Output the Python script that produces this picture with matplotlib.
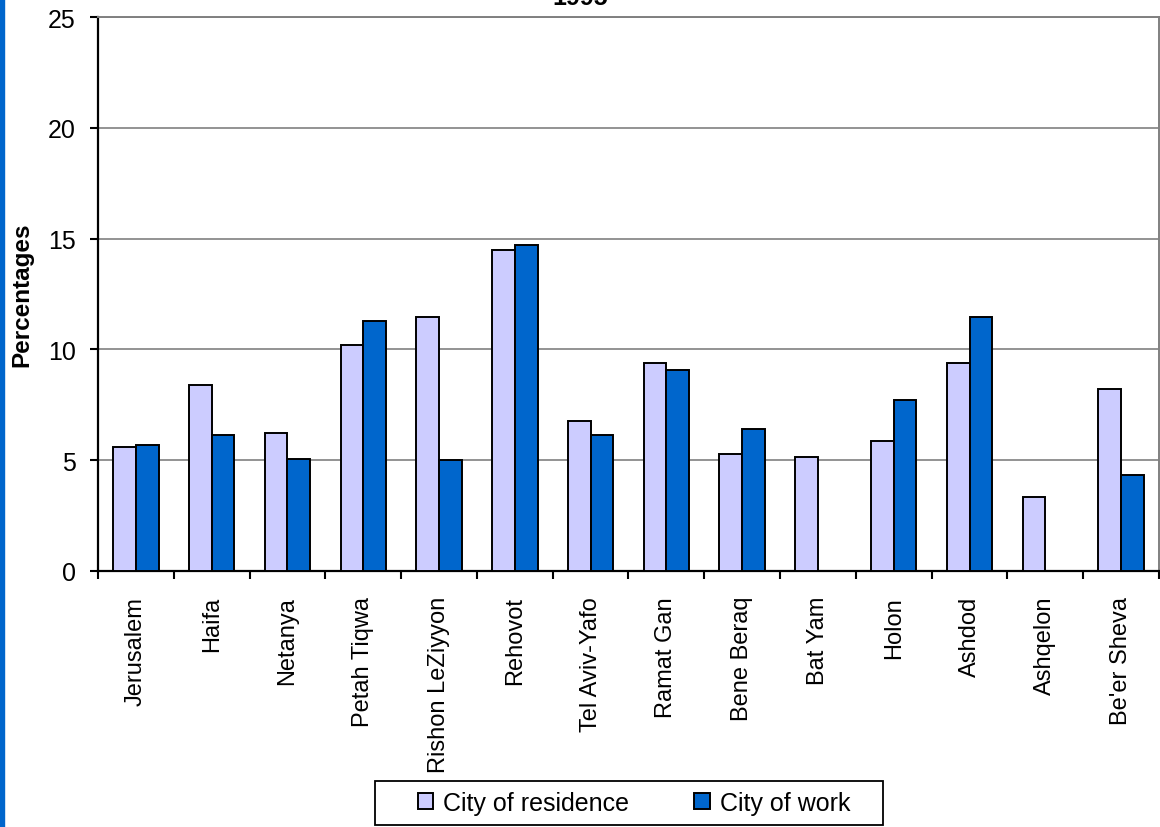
import numpy as np
import matplotlib.pyplot as plt
from matplotlib.patches import Rectangle

plt.rcParams['font.family'] = ['Liberation Sans', 'DejaVu Sans']

cities = ["Jerusalem", "Haifa", "Netanya", "Petah Tiqwa", "Rishon LeZiyyon",
          "Rehovot", "Tel Aviv-Yafo", "Ramat Gan", "Bene Beraq", "Bat Yam",
          "Holon", "Ashdod", "Ashqelon", "Be'er Sheva"]
residence = [5.6, 8.4, 6.25, 10.2, 11.45, 14.5, 6.75, 9.4, 5.3, 5.15,
             5.85, 9.4, 3.35, 8.2]
work = [5.7, 6.15, 5.05, 11.3, 5.0, 14.7, 6.15, 9.05, 6.4, np.nan,
        7.7, 11.45, np.nan, 4.35]

light = '#CCCCFF'
dark = '#0066CC'
W, H = 1160, 828

fig = plt.figure(figsize=(W / 100, H / 100), dpi=100)
ax = fig.add_axes([98 / W, 1 - 572 / H, 1061 / W, 554 / H])

x = np.arange(len(cities))
w = 0.3
ax.bar(x - w / 2, residence, w, color=light, edgecolor='black', linewidth=1.4,
       label='City of residence', zorder=3)
ax.bar(x + w / 2, work, w, color=dark, edgecolor='black', linewidth=1.4,
       label='City of work', zorder=3)

ax.set_xlim(-0.5, len(cities) - 0.5)
ax.set_ylim(0, 25)
ax.set_yticks(range(0, 26, 5))
ax.yaxis.grid(True, color='#808080', linewidth=1.2, zorder=0)

ax.set_xticks(x)
ax.set_xticklabels(cities, rotation=90, va='top', ha='center')
ax.set_xticks(np.arange(-0.5, len(cities), 1), minor=True)
ax.tick_params(axis='x', which='major', length=0, pad=18, labelsize=17)
ax.tick_params(axis='x', which='minor', length=6, width=1.5, direction='out')
ax.tick_params(axis='y', length=6, width=1.5, pad=10, labelsize=18)

for side in ('left', 'bottom'):
    ax.spines[side].set_linewidth(1.6)
    ax.spines[side].set_color('black')
for side in ('top', 'right'):
    ax.spines[side].set_linewidth(1.4)
    ax.spines[side].set_color('#808080')

ax.set_ylabel('Percentages', fontsize=17.5, fontweight='bold')
ax.yaxis.set_label_coords(-0.061, 0.5)

# legend entries without frame, box drawn separately
fig.legend(loc='center', bbox_to_anchor=(634 / W, 1 - 804 / H), ncol=2,
           fontsize=18, frameon=False,
           handlelength=0.62, handleheight=0.62, handletextpad=0.4,
           columnspacing=2.6)
fig.patches.append(Rectangle((375 / W, 1 - 826 / H), 508 / W, 44 / H,
                             transform=fig.transFigure, fill=False,
                             edgecolor='black', linewidth=1.3))

fig.text(0.5, 1 - 5 / H, '1995', ha='center', va='baseline',
         fontsize=18, fontweight='bold')

fig.patches.append(Rectangle((0, 0), 4 / W, 1, transform=fig.transFigure,
                             color=dark, zorder=0))

fig.savefig('out.png', dpi=100)
